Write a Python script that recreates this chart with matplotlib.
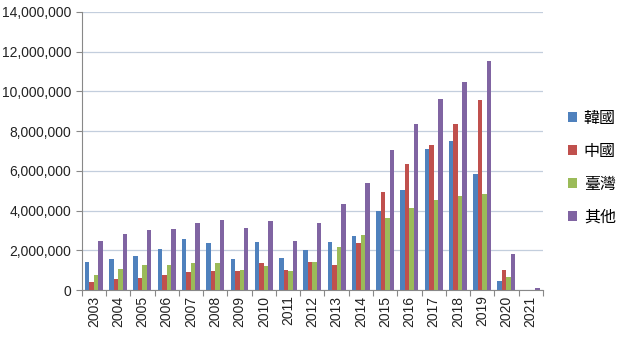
import matplotlib
matplotlib.use("Agg")
import matplotlib.pyplot as plt
import numpy as np
from matplotlib.ticker import FuncFormatter

years = ["2003", "2004", "2005", "2006", "2007", "2008", "2009", "2010", "2011", "2012",
         "2013", "2014", "2015", "2016", "2017", "2018", "2019", "2020", "2021"]
korea = [1420000, 1560000, 1710000, 2060000, 2570000, 2380000, 1560000, 2430000, 1610000, 2010000,
         2420000, 2720000, 3980000, 5040000, 7100000, 7500000, 5840000, 450000, 0]
china = [420000, 570000, 620000, 770000, 920000, 970000, 970000, 1370000, 1020000, 1410000,
         1260000, 2370000, 4930000, 6340000, 7300000, 8360000, 9570000, 1010000, 0]
taiwan = [760000, 1070000, 1260000, 1260000, 1380000, 1380000, 1020000, 1210000, 970000, 1410000,
          2170000, 2770000, 3630000, 4130000, 4530000, 4730000, 4830000, 650000, 0]
others = [2470000, 2820000, 3020000, 3070000, 3390000, 3520000, 3140000, 3470000, 2470000, 3370000,
          4330000, 5380000, 7050000, 8360000, 9620000, 10470000, 11530000, 1810000, 100000]
series_names = ["韓國", "中國", "臺灣", "其他"]
colors = ["#4F81BD", "#C0504D", "#9BBB59", "#8064A2"]

fig = plt.figure(figsize=(6.24, 3.42), dpi=100)
ax = fig.add_axes([0.131, 0.152, 0.739, 0.813])

x = np.arange(len(years))
w = 0.185
data = [korea, china, taiwan, others]
handles = []
for i, (vals, c, n) in enumerate(zip(data, colors, series_names)):
    b = ax.bar(x + (i - 1.5) * w, vals, width=w, color=c, label=n, linewidth=0)
    handles.append(b)

ax.set_xlim(-0.5, len(years) - 0.5)
ax.set_ylim(0, 14000000)
ax.set_yticks(np.arange(0, 14000001, 2000000))
ax.yaxis.set_major_formatter(FuncFormatter(lambda v, p: f"{int(v):,}"))
ax.grid(axis="y", color="#C3CEDD", linewidth=0.9)
ax.set_axisbelow(True)

ax.set_xticks(np.arange(-0.5, len(years), 1.0))
ax.set_xticklabels([])
ax.set_xticks(x, minor=True)
ax.set_xticklabels(years, minor=True, rotation=90, fontsize=10, family="Liberation Sans", color="#222222")
ax.tick_params(axis="x", which="minor", length=0, pad=4)
ax.tick_params(axis="x", which="major", length=4, color="#888888", direction="out")
ax.tick_params(axis="y", length=4, color="#888888", labelsize=10, labelcolor="#222222")
for lab in ax.get_yticklabels():
    lab.set_family("Liberation Sans")

for s in ["top", "right"]:
    ax.spines[s].set_visible(False)
for s in ["left", "bottom"]:
    ax.spines[s].set_color("#888888")

leg = fig.legend(handles=handles, labels=series_names, loc="center left",
                 bbox_to_anchor=(0.887, 0.51), frameon=False,
                 prop={"family": ["Noto Sans CJK TC", "DejaVu Sans"], "size": 11.5},
                 handlelength=0.6, handleheight=0.6, handletextpad=0.4, labelspacing=1.0)

fig.savefig("out.png", dpi=100)
